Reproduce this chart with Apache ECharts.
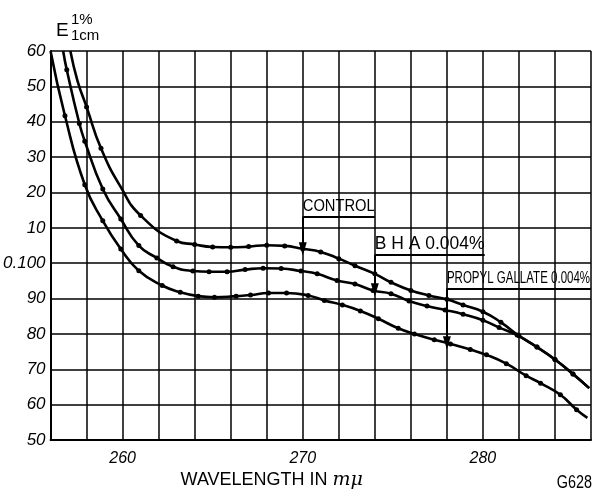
<!DOCTYPE html>
<html>
<head>
    <meta charset="utf-8">
    <script src="https://cdn.jsdelivr.net/npm/echarts@6/dist/echarts.min.js"></script>
</head>
<body style="margin: 0; background: #fff">
    <div id="container" style="width: 597px; height: 495px"></div>
    <script type="text/javascript">
        // wavelength (m\u03bc) / extinction values
        var controlX = [257.1, 257.5, 258, 258.8, 259.9, 261, 263, 264, 265, 266, 267, 268, 269, 270, 271, 272, 272.9, 274, 274.9, 276, 277, 278, 278.9, 280, 281, 282, 283, 284, 285, 285.9];
        var controlY = [0.160, 0.1515, 0.1442, 0.1325, 0.1215, 0.1135, 0.1063, 0.1053, 0.1046, 0.1045, 0.1047, 0.1051, 0.1049, 0.1041, 0.1032, 0.1013, 0.0993, 0.0970, 0.0946, 0.0923, 0.0909, 0.0898, 0.0882, 0.0863, 0.0833, 0.0795, 0.0763, 0.0728, 0.0687, 0.0647];
        // points on the control trace that carry no dot in the original
        var controlBare = [257.1, 257.5, 259.9, 285.9];

        var bhaX = [256.7, 256.9, 257.6, 257.9, 258.9, 259.9, 260.9, 261.9, 262.8, 263.9, 264.8, 265.8, 266.8, 267.8, 268.8, 269.9, 270.8, 271.9, 272.9, 273.9, 274.9, 275.9, 276.9, 277.9, 278.9, 280, 280.9, 281.9, 283, 284, 285, 285.9];
        var bhaY = [0.160, 0.1547, 0.1395, 0.1345, 0.1210, 0.1125, 0.1050, 0.1015, 0.0990, 0.0978, 0.0976, 0.0976, 0.0982, 0.0986, 0.0985, 0.0978, 0.0970, 0.0951, 0.0941, 0.0923, 0.0914, 0.0893, 0.0879, 0.0868, 0.0856, 0.0839, 0.0818, 0.0797, 0.0763, 0.0728, 0.0687, 0.0647];
        var bhaBare = [256.7, 285.9];

        var gallateX = [256, 256.8, 257.9, 258.9, 259.9, 260.9, 262.2, 263.2, 264.2, 265.1, 266.3, 267.1, 268.1, 269.1, 270.3, 271.2, 272.2, 273.2, 274.2, 275.3, 276.2, 277.3, 278.2, 279.3, 280.2, 281.3, 282.4, 283.2, 284.3, 285.2, 285.8];
        var gallateY = [0.160, 0.1417, 0.1222, 0.1120, 0.1040, 0.0979, 0.0937, 0.0918, 0.0907, 0.0904, 0.0907, 0.0910, 0.0916, 0.0916, 0.0909, 0.0895, 0.0882, 0.0865, 0.0843, 0.0816, 0.0800, 0.0784, 0.0772, 0.0756, 0.0741, 0.0716, 0.0682, 0.0661, 0.0628, 0.0586, 0.0563];
        var gallateBare = [256, 285.8];

        var xTickLabels = [260, 270, 280];
        var yTicks = [5, 6, 7, 8, 9, 10, 11, 12, 13, 14, 15, 16];
        var yTickLabels = ['50', '60', '70', '80', '90', '0.100', '10', '20', '30', '40', '50', '60'];

        // callouts: [label, x where arrow drops, underline y, underline end x, arrow tip y]
        var callouts = [
            ['CONTROL', 270, 0.1131, 274, 0.1041],
            ['B H A 0.004%', 274, 0.1023, 280.1, 0.0925],
            ['PROPYL GALLATE 0.004%', 278, 0.0928, 286, 0.0775]
        ];
        var calloutFont = [16, 18, 16];
        var calloutScale = [0.92, 0.97, 0.72];

        var FONT = "'Liberation Sans', sans-serif";

        function pairs(xs, ys, bare) {
            var out = [];
            for (var i = 0; i < xs.length; i++) {
                var p = { value: [xs[i], ys[i]] };
                if (bare.indexOf(xs[i]) >= 0) p.symbol = 'none';
                out.push(p);
            }
            return out;
        }

        function calloutLines(c) {
            return {
                silent: true,
                symbol: ['none', 'none'],
                animation: false,
                label: { show: false },
                lineStyle: { color: '#000', width: 2, type: 'solid' },
                data: [
                    [{ coord: [c[1], c[2]] }, { coord: [c[3], c[2]] }],
                    [{ coord: [c[1], c[2]] }, { coord: [c[1], c[4]], symbol: 'triangle', symbolSize: [8, 13] }]
                ]
            };
        }

        var dom = document.getElementById("container");
        var myChart = echarts.init(dom, null, { renderer: 'canvas' });

        function curve(name, xs, ys, bare, k) {
            return {
                name: name,
                type: 'line',
                data: pairs(xs, ys, bare),
                smooth: 0.5,
                symbol: 'circle',
                symbolSize: 5,
                itemStyle: { color: '#000' },
                lineStyle: { color: '#000', width: 2.6 },
                markLine: calloutLines(callouts[k]),
                z: 3
            };
        }

        var option = {
            animation: false,
            backgroundColor: '#fff',
            grid: { left: 50, right: 6, top: 51, bottom: 49 },
            xAxis: {
                type: 'value',
                min: 256,
                max: 286,
                interval: 2,
                name: 'WAVELENGTH IN {i|m\u03bc}',
                nameLocation: 'middle',
                nameGap: 30,
                nameTextStyle: {
                    color: '#000', fontSize: 18, fontFamily: FONT,
                    padding: [0, 98, 0, 0],
                    rich: { i: { fontStyle: 'italic', fontSize: 19, color: '#000', fontFamily: "'DejaVu Serif', serif" } }
                },
                axisLine: { lineStyle: { color: '#000', width: 2 } },
                axisTick: { show: false },
                axisLabel: {
                    color: '#000', fontSize: 16, fontStyle: 'italic', margin: 10,
                    fontFamily: FONT,
                    formatter: function (v) {
                        return xTickLabels.indexOf(v) >= 0 ? String(v) : '';
                    }
                },
                splitLine: { show: true, lineStyle: { color: '#000', width: 1.5 } }
            },
            yAxis: {
                type: 'value',
                min: 0.05,
                max: 0.16,
                interval: 0.01,
                axisLine: { show: true, lineStyle: { color: '#000', width: 2 } },
                axisTick: { show: false },
                axisLabel: {
                    color: '#000', fontSize: 17, fontStyle: 'italic', margin: 5,
                    fontFamily: FONT,
                    formatter: function (v) {
                        var i = yTicks.indexOf(Math.round(v * 100));
                        return i >= 0 ? yTickLabels[i] : '';
                    }
                },
                splitLine: { show: true, lineStyle: { color: '#000', width: 1.5 } }
            },
            series: [
                curve('CONTROL', controlX, controlY, controlBare, 0),
                curve('BHA 0.004%', bhaX, bhaY, bhaBare, 1),
                curve('PROPYL GALLATE 0.004%', gallateX, gallateY, gallateBare, 2)
            ]
        };

        myChart.setOption(option);

        // texts: E(1%,1cm) header, plate number and the callout captions
        var graphics = [
            { type: 'text', left: 56, top: 21, style: { text: 'E', fontSize: 19, fill: '#000', fontFamily: FONT } },
            { type: 'text', left: 71, top: 12, style: { text: '1%', fontSize: 15, fill: '#000', fontFamily: FONT } },
            { type: 'text', left: 71, top: 28, style: { text: '1cm', fontSize: 15, fill: '#000', fontFamily: FONT } },
            { type: 'text', x: 592, y: 492, scaleX: 0.8, style: { text: 'G628', fontSize: 18, fill: '#000', fontFamily: FONT, align: 'right', verticalAlign: 'bottom' } }
        ];
        callouts.forEach(function (c, k) {
            var p = myChart.convertToPixel({ gridIndex: 0 }, [c[1], c[2]]);
            graphics.push({
                type: 'text', x: p[0], y: p[1] - 2, scaleX: calloutScale[k], z: 10,
                style: { text: c[0], fontSize: calloutFont[k], fill: '#000', fontFamily: FONT, align: 'left', verticalAlign: 'bottom' }
            });
        });
        myChart.setOption({ graphic: graphics });
    </script>
</body>
</html>
